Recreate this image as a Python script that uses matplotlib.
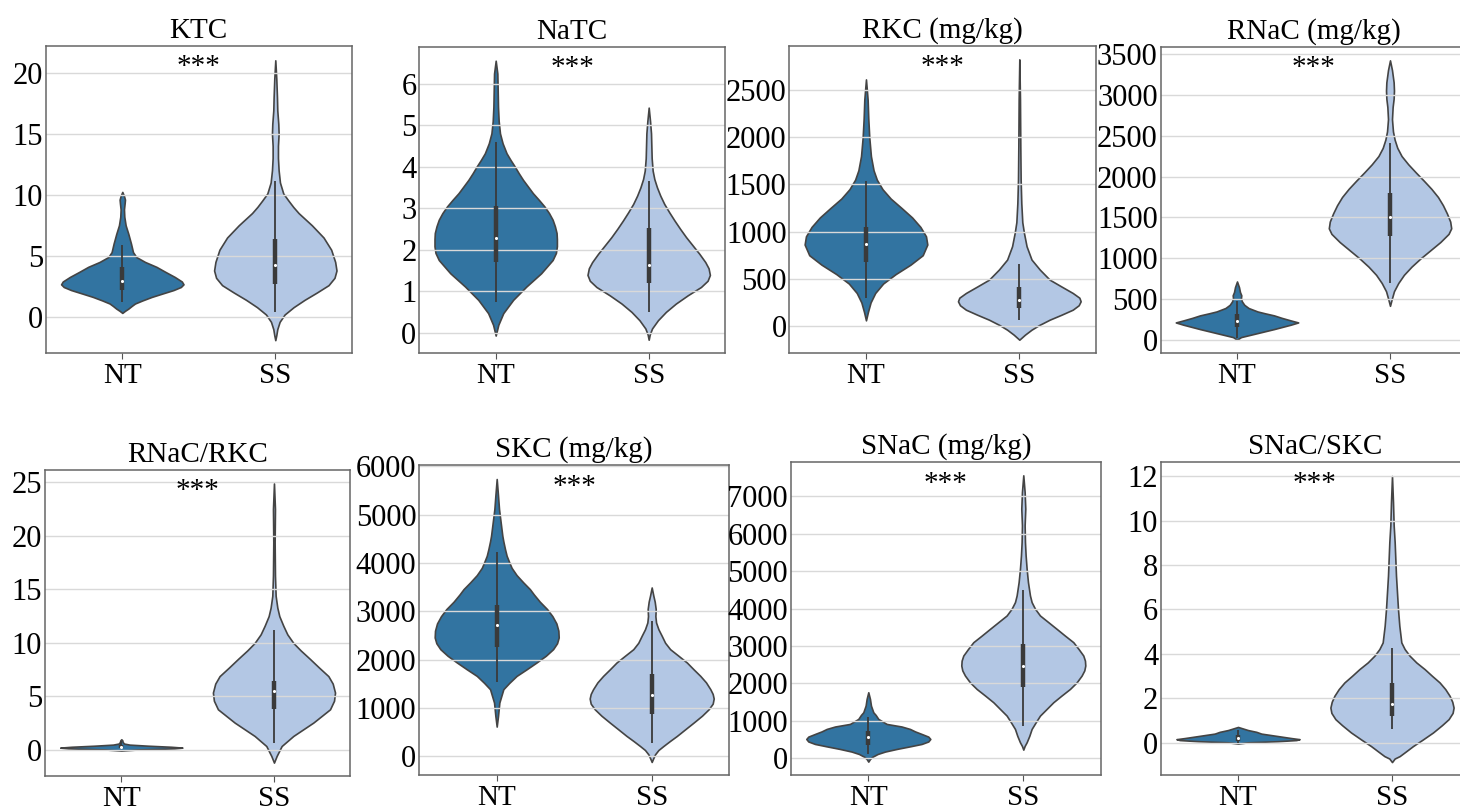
import matplotlib
matplotlib.use("Agg")
import matplotlib.pyplot as plt

plt.rcParams["font.family"] = ["Liberation Serif", "DejaVu Serif"]

groups = ["NT", "SS"]
nt_color = "#3274a1"
ss_color = "#b3c7e4"

# violin outlines: (value, relative half-width), bottom to top
ktc_nt = [(0.33, 0), (0.5, 8), (0.68, 18), (0.9, 28), (1.1, 38), (1.35, 60), (1.64, 88), (1.9, 118),
          (2.2, 153), (2.45, 175), (2.67, 183), (2.9, 178), (3.27, 157), (3.7, 128), (4.1, 102),
          (4.5, 68), (4.9, 42), (5.3, 32), (6.0, 26), (6.8, 18), (7.5, 10), (8.2, 6), (8.8, 5),
          (9.3, 7), (9.6, 8), (9.9, 5), (10.23, 0)]
ktc_ss = [(-1.9, 0), (-1.5, 3), (-1.0, 6), (-0.4, 13), (0.2, 28), (0.8, 55), (1.4, 88), (2.0, 125),
          (2.6, 160), (3.2, 178), (3.8, 184), (4.5, 180), (5.5, 168), (6.5, 145), (7.5, 110), (8.5, 70),
          (9.0, 54), (9.5, 40), (10.1, 24), (11.0, 14), (12.0, 10), (13.0, 8), (14.0, 8), (15.0, 10),
          (15.8, 9), (16.9, 6), (18.0, 5), (19.5, 3), (21.0, 0)]
natc_nt = [(-0.07, 0), (0.19, 8), (0.47, 23), (0.79, 53), (1.11, 93), (1.43, 138), (1.75, 173),
           (1.92, 183), (2.08, 186), (2.25, 186), (2.4, 185), (2.56, 180), (2.72, 173), (2.88, 162),
           (3.04, 148), (3.2, 131), (3.36, 113), (3.52, 98), (3.68, 83), (3.84, 70), (4.0, 58),
           (4.16, 45), (4.32, 33), (4.56, 21), (4.8, 13), (5.1, 9), (5.44, 7), (5.84, 6), (6.24, 5), (6.55, 0)]
natc_ss = [(-0.17, 0), (-0.05, 3), (0.1, 10), (0.3, 28), (0.5, 52), (0.7, 82), (0.9, 118), (1.1, 158),
           (1.25, 178), (1.39, 185), (1.55, 181), (1.7, 171), (1.9, 153), (2.1, 133), (2.3, 113),
           (2.5, 95), (2.7, 78), (2.9, 62), (3.1, 47), (3.3, 35), (3.5, 25), (3.7, 17), (3.9, 12),
           (4.2, 9), (4.5, 8), (4.8, 7), (5.1, 4), (5.42, 0)]
rkc_nt = [(60, 0), (150, 6), (250, 14), (350, 28), (450, 52), (550, 90), (650, 135), (750, 172),
          (863, 186), (950, 182), (1050, 165), (1150, 140), (1250, 108), (1350, 75), (1450, 50),
          (1550, 33), (1650, 23), (1800, 15), (2000, 10), (2200, 7), (2400, 5), (2613, 0)]
rkc_ss = [(-145, 0), (-92, 17), (-39, 37), (10, 60), (67, 92), (120, 128), (173, 162), (220, 180),
          (262, 186), (300, 182), (350, 162), (420, 127), (491, 92), (598, 62), (704, 37), (845, 22),
          (987, 14), (1100, 9), (1300, 6), (1550, 4), (1900, 3), (2400, 2), (2825, 0)]
rnac_nt = [(8, 0), (40, 12), (89, 62), (138, 112), (191, 162), (219, 185), (244, 162), (275, 135),
           (305, 112), (330, 85), (353, 62), (395, 35), (434, 22), (475, 15), (516, 12), (550, 13),
           (590, 9), (650, 6), (719, 0)]
rnac_ss = [(422, 0), (500, 5), (600, 12), (700, 25), (800, 42), (900, 65), (1000, 92), (1100, 122),
           (1200, 152), (1300, 177), (1368, 185), (1450, 182), (1550, 172), (1650, 160), (1750, 145),
           (1850, 125), (1950, 102), (2050, 78), (2150, 55), (2250, 35), (2350, 22), (2450, 14),
           (2550, 9), (2700, 6), (2850, 8), (2950, 11), (3050, 12), (3150, 11), (3300, 6), (3418, 0)]
ratio_r_nt = [(-0.06, 0), (0.05, 50), (0.15, 160), (0.22, 184), (0.3, 150), (0.4, 80), (0.5, 25),
              (0.6, 8), (0.75, 4), (0.9, 3), (1.0, 0)]
ratio_r_ss = [(-1.18, 0), (-0.56, 8), (0.37, 23), (1.31, 58), (2.56, 118), (3.8, 168), (4.6, 180),
              (5.36, 183), (6.2, 176), (6.9, 163), (7.7, 135), (8.5, 108), (9.3, 80), (10.0, 58),
              (10.8, 40), (11.6, 28), (12.5, 16), (13.3, 10), (14.4, 5), (16.3, 3), (19.4, 2),
              (22.5, 3), (24.9, 0)]
skc_nt = [(615, 0), (836, 4), (1112, 8), (1388, 20), (1520, 38), (1664, 60), (1800, 90), (1941, 120),
          (2080, 148), (2217, 170), (2340, 182), (2459, 187), (2600, 186), (2750, 180), (2900, 168),
          (3046, 152), (3200, 130), (3350, 112), (3460, 100), (3600, 80), (3750, 60), (3900, 45),
          (4012, 38), (4150, 30), (4289, 25), (4450, 20), (4565, 17), (4841, 12), (5117, 7),
          (5394, 4), (5739, 0)]
skc_ss = [(-117, 0), (-50, 4), (41, 10), (130, 20), (214, 35), (320, 55), (421, 75), (560, 100),
          (698, 125), (840, 150), (974, 170), (1090, 182), (1195, 185), (1290, 182), (1388, 175),
          (1530, 162), (1664, 145), (1800, 125), (1941, 105), (2080, 80), (2217, 55), (2350, 40),
          (2493, 30), (2630, 20), (2769, 13), (2900, 11), (3046, 12), (3200, 9), (3322, 5), (3494, 0)]
snac_nt = [(-89, 0), (-18, 5), (40, 12), (116, 28), (180, 50), (250, 85), (320, 125), (384, 160),
           (450, 180), (517, 186), (580, 180), (651, 160), (720, 140), (785, 125), (850, 100),
           (919, 55), (1053, 30), (1160, 22), (1231, 15), (1409, 8), (1588, 5), (1766, 0)]
snac_ss = [(232, 0), (330, 4), (428, 10), (600, 18), (785, 25), (960, 37), (1142, 50), (1320, 70),
           (1499, 90), (1680, 115), (1855, 140), (2030, 160), (2212, 175), (2350, 183), (2480, 186),
           (2610, 185), (2747, 180), (2920, 166), (3104, 150), (3280, 125), (3461, 100), (3640, 75),
           (3818, 50), (4000, 35), (4175, 25), (4353, 20), (4710, 14), (5067, 10), (5424, 7),
           (5780, 5), (6227, 4), (6673, 6), (7119, 4), (7565, 0)]
ratio_s_nt = [(-0.03, 0), (0.03, 30), (0.08, 120), (0.13, 175), (0.17, 185), (0.22, 160), (0.32, 115),
              (0.42, 70), (0.5, 55), (0.58, 30), (0.65, 15), (0.72, 0)]
ratio_s_ss = [(-0.86, 0), (-0.7, 8), (-0.59, 23), (-0.4, 40), (-0.14, 63), (0.15, 92), (0.47, 123),
              (0.8, 150), (1.07, 170), (1.35, 182), (1.59, 185), (1.85, 181), (2.12, 173), (2.42, 160),
              (2.72, 143), (3.02, 120), (3.32, 98), (3.62, 73), (3.92, 53), (4.22, 38), (4.52, 28),
              (5.27, 22), (6.02, 18), (6.77, 15), (7.52, 12), (8.28, 10), (9.03, 8), (9.78, 5),
              (10.83, 3), (12.0, 0)]

# inner box: whisker low, q1, median, q3, whisker high
ktc_box = [[1.23, 2.24, 2.92, 4.09, 5.92], [0.41, 2.67, 4.28, 6.35, 11.1]]
natc_box = [[0.73, 1.71, 2.28, 3.04, 4.6], [0.49, 1.19, 1.62, 2.52, 3.65]]
rkc_box = [[297, 675, 873, 1050, 1535], [67, 191, 279, 414, 658]]
rnac_box = [[28, 165, 231, 320, 475], [706, 1275, 1502, 1803, 2412]]
ratio_r_box = [[0.05, 0.15, 0.28, 0.45, 0.85], [0.69, 3.87, 5.52, 6.45, 11.2]]
skc_box = [[1540, 2272, 2714, 3135, 4220], [269, 884, 1264, 1713, 2804]]
snac_box = [[116, 357, 562, 740, 1097], [874, 1900, 2462, 3051, 4487]]
ratio_s_box = [[0.02, 0.1, 0.22, 0.38, 0.6], [0.65, 1.19, 1.74, 2.69, 4.25]]

titles = ["KTC", "NaTC", "RKC (mg/kg)", "RNaC (mg/kg)",
          "RNaC/RKC", "SKC (mg/kg)", "SNaC (mg/kg)", "SNaC/SKC"]
violins = [(ktc_nt, ktc_ss), (natc_nt, natc_ss), (rkc_nt, rkc_ss), (rnac_nt, rnac_ss),
           (ratio_r_nt, ratio_r_ss), (skc_nt, skc_ss), (snac_nt, snac_ss), (ratio_s_nt, ratio_s_ss)]
boxes = [ktc_box, natc_box, rkc_box, rnac_box, ratio_r_box, skc_box, snac_box, ratio_s_box]
ylims = [(-2.95, 22.17), (-0.49, 6.88), (-286, 2967), (-154, 3581),
         (-2.43, 26.15), (-387, 6029), (-446, 7921), (-1.44, 12.63)]
yticks = [range(0, 21, 5), range(0, 7), range(0, 2501, 500), range(0, 3501, 500),
          range(0, 26, 5), range(0, 6001, 1000), range(0, 7001, 1000), range(0, 13, 2)]

# axes boxes in pixels: left, top, right, bottom
W, H = 1460, 809
boxes_px = [(45.8, 46, 351.8, 353), (419.2, 47, 725.2, 353), (789.3, 46, 1096, 353),
            (1160.5, 47, 1466.5, 353), (45, 470, 350.3, 776), (419.2, 465, 729.2, 775),
            (790.8, 462, 1100.8, 775), (1161, 462, 1469, 775)]

fig = plt.figure(figsize=(W / 100, H / 100), dpi=100)

for i in range(8):
    l, t, r, b = boxes_px[i]
    ax = fig.add_axes([l / W, 1 - b / H, (r - l) / W, (b - t) / H])
    ax.set_axisbelow("line")
    stats = []
    for shape, box in zip(violins[i], boxes[i]):
        stats.append({
            "coords": [p[0] for p in shape],
            "vals": [p[1] for p in shape],
            "mean": box[2], "median": box[2], "min": box[0], "max": box[4],
        })
    parts = ax.violin(stats, positions=[0, 1], widths=0.8, showmeans=False,
                      showextrema=False, showmedians=False)
    for body, c in zip(parts["bodies"], [nt_color, ss_color]):
        body.set_facecolor(c)
        body.set_edgecolor("#444444")
        body.set_linewidth(1.2)
        body.set_alpha(1)
    for pos, box in enumerate(boxes[i]):
        ax.vlines(pos, box[0], box[4], color="#3a3a3a", lw=1.3, zorder=3)
        ax.vlines(pos, box[1], box[3], color="#3a3a3a", lw=3.2, zorder=3)
        ax.scatter([pos], [box[2]], s=5, color="white", zorder=4, linewidths=0)

    ax.set_xlim(-0.5, 1.5)
    ax.set_ylim(*ylims[i])
    ax.set_xticks([0, 1])
    ax.set_xticklabels(groups)
    ax.set_yticks(list(yticks[i]))
    ax.yaxis.grid(True, color="#d9d9d9", lw=1)
    ax.tick_params(axis="x", labelsize=21, length=4, color="#555555", pad=3)
    ax.tick_params(axis="y", labelsize=22, length=0, pad=2)
    for sp in ax.spines.values():
        sp.set_color("#666666")
        sp.set_linewidth(1.1)
    ax.set_title(titles[i], fontsize=21, pad=6)
    ax.text(0.5, 0.93, "***", transform=ax.transAxes, ha="center", va="center", fontsize=21)

fig.savefig("out.png", dpi=100)
